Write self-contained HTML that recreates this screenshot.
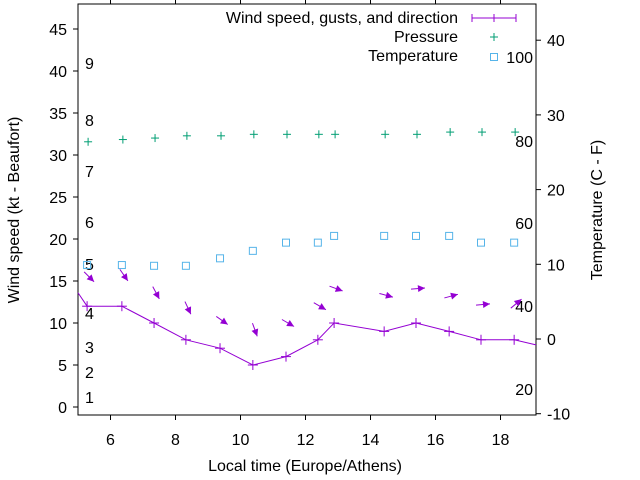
<!DOCTYPE html>
<html><head><meta charset="utf-8"><style>
body{margin:0;background:#fff}
svg{display:block;font-family:"Liberation Sans",sans-serif}
</style></head><body>
<svg id="chart" width="640" height="480" viewBox="0 0 640 480"></svg>
<script>
const times=[5.28,6.35,7.34,8.32,9.37,10.38,11.4,12.38,12.88,14.42,15.4,16.42,17.4,18.42];
const wind=[12,12,10,8,7,5,6,8,10,9,10,9,8,8];
const windStart=13.6, windEnd=7.4;
const pressure=[26.4,26.7,26.9,27.2,27.2,27.4,27.4,27.4,27.4,27.4,27.4,27.7,27.7,27.7];
const temperature=[9.9,9.9,9.8,9.8,10.8,11.8,12.9,12.9,13.8,13.8,13.8,13.8,12.9,12.9];
const gusts=[15.5,15.7,13.6,11.8,10.3,9.2,10.0,12.0,14.1,13.3,14.1,13.2,12.2,12.3];
const gustDir=[45,55,62,65,35,70,30,30,20,15,-5,-15,-5,-40];
const xTicks=[6,8,10,12,14,16,18];
const yTicks=[0,5,10,15,20,25,30,35,40,45];
const y2Ticks=[-10,0,10,20,30,40];
const beaufort=[[1,397],[2,372],[3,347],[4,313],[5,264],[6,222],[7,171],[8,120],[9,63]];
const fahr=[[20,389],[40,306],[60,223],[80,141],[100,57]];

const L=78,R=536,T=4,B=415;
const X=v=>L+(v-5)*32.5;
const Y=v=>407-v*8.4;
const Y2=v=>339-v*7.47;
const svg=document.getElementById('chart');
const NS='http://www.w3.org/2000/svg';
function mk(tag,attrs,parent){const e=document.createElementNS(NS,tag);for(const k in attrs)e.setAttribute(k,attrs[k]);(parent||svg).appendChild(e);return e;}
function txt(x,y,s,anchor,size,parent){const t=mk('text',{x:x,y:y,'text-anchor':anchor||'middle','font-size':size||16,fill:'#000'},parent);t.textContent=s;return t;}

const frame=mk('rect',{x:L,y:T,width:R-L,height:B-T,fill:'none',stroke:'#000','stroke-width':1});



xTicks.forEach(v=>{
  const g=mk('g',{});
  
  
  mk('line',{x1:X(v),x2:X(v),y1:B,y2:B+5,stroke:'#000'},g);
  mk('line',{x1:X(v),x2:X(v),y1:T,y2:T-5,stroke:'#000'},g);
  txt(X(v),B+30,String(v),'middle',16,g);
});
yTicks.forEach(v=>{
  const g=mk('g',{});
  
  
  mk('line',{x1:L-5,x2:L,y1:Y(v),y2:Y(v),stroke:'#000'},g);
  txt(L-11,Y(v)+6,String(v),'end',16,g);
});
y2Ticks.forEach(v=>{
  const g=mk('g',{});
  
  
  mk('line',{x1:R,x2:R+5,y1:Y2(v),y2:Y2(v),stroke:'#000'},g);
  txt(R+11,Y2(v)+6,String(v),'start',16,g);
});
beaufort.forEach(b=>{
  const t=txt(85,b[1]+6,String(b[0]),'start',16);
  
  
});
fahr.forEach(f=>{
  const t=txt(533,f[1]+6,String(f[0]),'end',16);
  
  
});

// wind line
let pts=[[L,Y(windStart)]].concat(times.map((t,i)=>[X(t),Y(wind[i])])).concat([[R,Y(windEnd)]]);
const wl=mk('polyline',{points:pts.map(p=>p.join(',')).join(' '),fill:'none',stroke:'#9400d3','stroke-width':1});


times.forEach((t,i)=>{
  const g=mk('g',{stroke:'#9400d3'});
  
  
  mk('line',{x1:X(t)-5,x2:X(t)+5,y1:Y(wind[i]),y2:Y(wind[i])},g);
  mk('line',{x1:X(t),x2:X(t),y1:Y(wind[i])-5,y2:Y(wind[i])+5},g);
});
// gust arrows
times.forEach((t,i)=>{
  const cx=X(t)+2,cy=Y(gusts[i]);
  const a=gustDir[i]*Math.PI/180;
  const dx=Math.cos(a)*7,dy=Math.sin(a)*7;
  const x1=cx-dx,y1=cy-dy,x2=cx+dx,y2=cy+dy;
  const g=mk('g',{});
  
  
  mk('line',{x1:x1,y1:y1,x2:x2,y2:y2,stroke:'#9400d3','stroke-width':1},g);
  const ux=Math.cos(a),uy=Math.sin(a),px=-uy,py=ux;
  const hx=x2-ux*7,hy=y2-uy*7;
  mk('polygon',{points:`${x2},${y2} ${hx+px*3.5},${hy+py*3.5} ${hx-px*3.5},${hy-py*3.5}`,fill:'#9400d3'},g);
});
// pressure
times.forEach((t,i)=>{
  const x=X(t)+1,y=Y2(pressure[i]);
  const g=mk('g',{stroke:'#009e73'});
  
  
  mk('line',{x1:x-4,x2:x+4,y1:y,y2:y},g);
  mk('line',{x1:x,x2:x,y1:y-4,y2:y+4},g);
});
// temperature
times.forEach((t,i)=>{
  const r=mk('rect',{x:X(t)-3.5,y:Y2(temperature[i])-3.5,width:7,height:7,fill:'none',stroke:'#56b4e9'});
  
  
});

// legend
const lg=mk('g',{});


txt(458,23,'Wind speed, gusts, and direction','end',16,lg);
mk('line',{x1:472,x2:516,y1:18,y2:18,stroke:'#9400d3'},lg);
[472,494,516].forEach(x=>mk('line',{x1:x,x2:x,y1:14,y2:22,stroke:'#9400d3'},lg));
txt(458,42,'Pressure','end',16,lg);
mk('line',{x1:490,x2:498,y1:37,y2:37,stroke:'#009e73'},lg);
mk('line',{x1:494,x2:494,y1:33,y2:41,stroke:'#009e73'},lg);
txt(458,61,'Temperature','end',16,lg);
mk('rect',{x:490.5,y:53.5,width:7,height:7,fill:'none',stroke:'#56b4e9'},lg);

// axis titles
const xt=txt(305,471,'Local time (Europe/Athens)','middle',16);


const yt=txt(0,0,'Wind speed (kt - Beaufort)','middle',16);
yt.setAttribute('transform','translate(19,210) rotate(-90)');


const y2t=txt(0,0,'Temperature (C - F)','middle',16);
y2t.setAttribute('transform','translate(602,210) rotate(-90)');


</script>
</body></html>
